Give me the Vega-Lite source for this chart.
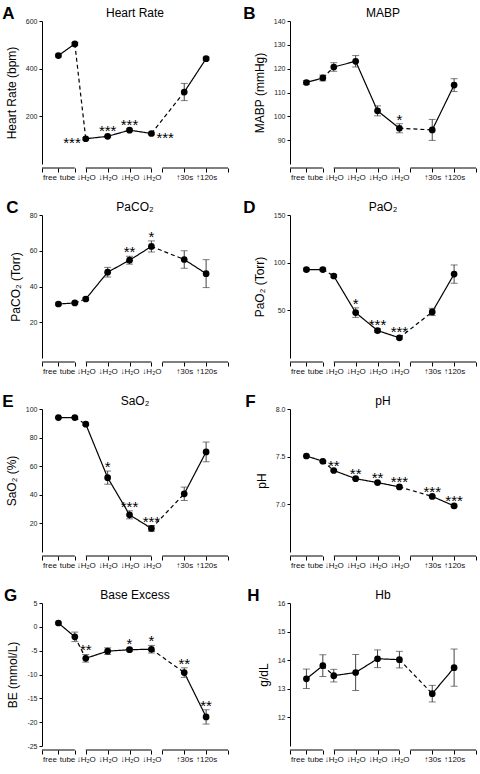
{
"$schema": "https://vega.github.io/schema/vega-lite/v6.json",
"padding": {"left": 2, "right": 2, "top": 5, "bottom": 2},
"columns": 2,
"spacing": {"row": 18, "column": 14},
"concat": [
{
"title": {"text": "A", "anchor": "start", "fontSize": 17, "fontWeight": "bold", "offset": -16, "dx": -3},
"vconcat": [{
"title": "Heart Rate", "width": 186, "height": 143,
"data": {"values": [
{"cond": "free", "phase": "pre", "mean": 455, "err": 6, "sig": ""},
{"cond": "tube", "phase": "pre", "mean": 504, "err": 6, "sig": ""},
{"cond": "d1", "phase": "dive", "mean": 106, "err": 5, "sig": "***"},
{"cond": "d2", "phase": "dive", "mean": 116, "err": 5, "sig": "***"},
{"cond": "d3", "phase": "dive", "mean": 142, "err": 5, "sig": "***"},
{"cond": "d4", "phase": "dive", "mean": 128, "err": 5, "sig": "***"},
{"cond": "r30", "phase": "rec", "mean": 302, "err": 36, "sig": ""},
{"cond": "r120", "phase": "rec", "mean": 442, "err": 6, "sig": ""}]},
"encoding": {
"x": {"field": "cond", "type": "nominal", "title": null, "scale": {"type": "point", "padding": 0, "domain": ["q0","q1","q2","free","q4","q5","tube","q7","d1","q9","q10","q11","d2","q13","q14","q15","d3","q17","q18","q19","d4","q21","q22","q23","q24","q25","r30","q27","q28","q29","r120","q31","q32","q33","q34"]}, "axis": {"values": ["q0","free","tube","d1","d2","d3","d4","q22","r30","r120","q34"], "labelExpr": "datum.value == 'free' ? 'free' : datum.value == 'tube' ? 'tube' : (datum.value == 'd1' || datum.value == 'd2' || datum.value == 'd3' || datum.value == 'd4') ? '↓H₂O' : datum.value == 'r30' ? '↑30s' : datum.value == 'r120' ? '↑120s' : ''", "labelAlign": {"condition": {"test": "datum.value == 'free' || datum.value == 'tube'", "value": "right"}, "value": "center"}, "labelOffset": {"condition": {"test": "datum.value == 'free'", "value": -2}, "value": 0}}},
"y": {"field": "mean", "type": "quantitative", "title": "Heart Rate (bpm)", "scale": {"domain": [0, 600]}, "axis": {"values": [200, 400, 600]}}
},
"layer": [
{"data": {"values": [{"cond": "q0", "cond2": "tube"}, {"cond": "d1", "cond2": "d4"}, {"cond": "q22", "cond2": "q34"}]}, "mark": {"type": "rule", "yOffset": 4, "y2Offset": 4, "color": "#000", "strokeWidth": 1}, "encoding": {"x2": {"field": "cond2"}, "y": {"value": "height"}, "y2": {"value": "height"}}},
{"transform": [{"window": [{"op": "lead", "field": "cond", "as": "ncond"}, {"op": "lead", "field": "mean", "as": "nmean"}, {"op": "lead", "field": "phase", "as": "nphase"}]}, {"filter": "datum.ncond != null"}],
 "mark": {"type": "rule", "color": "#000", "strokeWidth": 1.2}, "encoding": {"x2": {"field": "ncond"}, "y2": {"field": "nmean"}, "strokeDash": {"condition": {"test": "datum.phase !== datum.nphase", "value": [4, 3]}, "value": [1, 0]}}},
{"mark": {"type": "errorbar", "ticks": true, "size": 7, "thickness": 1, "color": "#444"}, "encoding": {"yError": {"field": "err"}}},
{"mark": {"type": "circle", "size": 45, "opacity": 1, "color": "#000"}},
{"transform": [{"filter": "datum.cond == 'd2' || datum.cond == 'd3'"}, {"calculate": "datum.mean + datum.err", "as": "hi"}], "mark": {"type": "text", "fontSize": 15, "dy": 1, "baseline": "alphabetic", "color": "#000"}, "encoding": {"y": {"field": "hi", "type": "quantitative", "title": "Heart Rate (bpm)"}, "text": {"field": "sig"}}},
{"transform": [{"filter": "datum.cond == 'd1'"}], "mark": {"type": "text", "fontSize": 15, "dy": 9, "dx": -5, "align": "right", "baseline": "alphabetic", "color": "#000"}, "encoding": {"text": {"field": "sig"}}},
{"transform": [{"filter": "datum.cond == 'd4'"}], "mark": {"type": "text", "fontSize": 15, "dy": 10, "dx": 5, "align": "left", "baseline": "alphabetic", "color": "#000"}, "encoding": {"text": {"field": "sig"}}}
]
}]
},
{
"title": {"text": "B", "anchor": "start", "fontSize": 17, "fontWeight": "bold", "offset": -16, "dx": -10},
"vconcat": [{
"title": "MABP", "width": 186, "height": 143,
"data": {"values": [
{"cond": "free", "phase": "pre", "mean": 114.2, "err": 0.8, "sig": ""},
{"cond": "tube", "phase": "pre", "mean": 116.1, "err": 1.2, "sig": ""},
{"cond": "d1", "phase": "dive", "mean": 120.7, "err": 1.8, "sig": ""},
{"cond": "d2", "phase": "dive", "mean": 123.1, "err": 2.4, "sig": ""},
{"cond": "d3", "phase": "dive", "mean": 102.3, "err": 2.1, "sig": ""},
{"cond": "d4", "phase": "dive", "mean": 95.0, "err": 1.9, "sig": "*"},
{"cond": "r30", "phase": "rec", "mean": 94.3, "err": 4.4, "sig": ""},
{"cond": "r120", "phase": "rec", "mean": 113.1, "err": 2.7, "sig": ""}]},
"encoding": {
"x": {"field": "cond", "type": "nominal", "title": null, "scale": {"type": "point", "padding": 0, "domain": ["q0","q1","q2","free","q4","q5","tube","q7","d1","q9","q10","q11","d2","q13","q14","q15","d3","q17","q18","q19","d4","q21","q22","q23","q24","q25","r30","q27","q28","q29","r120","q31","q32","q33","q34"]}, "axis": {"values": ["q0","free","tube","d1","d2","d3","d4","q22","r30","r120","q34"], "labelExpr": "datum.value == 'free' ? 'free' : datum.value == 'tube' ? 'tube' : (datum.value == 'd1' || datum.value == 'd2' || datum.value == 'd3' || datum.value == 'd4') ? '↓H₂O' : datum.value == 'r30' ? '↑30s' : datum.value == 'r120' ? '↑120s' : ''", "labelAlign": {"condition": {"test": "datum.value == 'free' || datum.value == 'tube'", "value": "right"}, "value": "center"}, "labelOffset": {"condition": {"test": "datum.value == 'free'", "value": -2}, "value": 0}}},
"y": {"field": "mean", "type": "quantitative", "title": "MABP (mmHg)", "scale": {"domain": [80, 140]}, "axis": {"values": [90, 100, 110, 120, 130, 140]}}
},
"layer": [
{"data": {"values": [{"cond": "q0", "cond2": "tube"}, {"cond": "d1", "cond2": "d4"}, {"cond": "q22", "cond2": "q34"}]}, "mark": {"type": "rule", "yOffset": 4, "y2Offset": 4, "color": "#000", "strokeWidth": 1}, "encoding": {"x2": {"field": "cond2"}, "y": {"value": "height"}, "y2": {"value": "height"}}},
{"transform": [{"window": [{"op": "lead", "field": "cond", "as": "ncond"}, {"op": "lead", "field": "mean", "as": "nmean"}, {"op": "lead", "field": "phase", "as": "nphase"}]}, {"filter": "datum.ncond != null"}],
 "mark": {"type": "rule", "color": "#000", "strokeWidth": 1.2}, "encoding": {"x2": {"field": "ncond"}, "y2": {"field": "nmean"}, "strokeDash": {"condition": {"test": "datum.phase !== datum.nphase", "value": [4, 3]}, "value": [1, 0]}}},
{"mark": {"type": "errorbar", "ticks": true, "size": 7, "thickness": 1, "color": "#444"}, "encoding": {"yError": {"field": "err"}}},
{"mark": {"type": "circle", "size": 45, "opacity": 1, "color": "#000"}},
{"transform": [{"filter": "datum.sig"}, {"calculate": "datum.mean + datum.err", "as": "hi"}], "mark": {"type": "text", "fontSize": 15, "dy": 1, "baseline": "alphabetic", "color": "#000"}, "encoding": {"y": {"field": "hi", "type": "quantitative", "title": "MABP (mmHg)"}, "text": {"field": "sig"}}}
]
}]
},
{
"title": {"text": "C", "anchor": "start", "fontSize": 17, "fontWeight": "bold", "offset": -16, "dx": -3},
"vconcat": [{
"title": "PaCO₂", "width": 186, "height": 143,
"data": {"values": [
{"cond": "free", "phase": "pre", "mean": 30.2, "err": 0.6, "sig": ""},
{"cond": "tube", "phase": "pre", "mean": 30.8, "err": 0.6, "sig": ""},
{"cond": "d1", "phase": "dive", "mean": 33.0, "err": 0.8, "sig": ""},
{"cond": "d2", "phase": "dive", "mean": 48.0, "err": 2.7, "sig": ""},
{"cond": "d3", "phase": "dive", "mean": 54.7, "err": 2.2, "sig": "**"},
{"cond": "d4", "phase": "dive", "mean": 62.4, "err": 3.1, "sig": "*"},
{"cond": "r30", "phase": "rec", "mean": 55.1, "err": 4.9, "sig": ""},
{"cond": "r120", "phase": "rec", "mean": 47.2, "err": 7.8, "sig": ""}]},
"encoding": {
"x": {"field": "cond", "type": "nominal", "title": null, "scale": {"type": "point", "padding": 0, "domain": ["q0","q1","q2","free","q4","q5","tube","q7","d1","q9","q10","q11","d2","q13","q14","q15","d3","q17","q18","q19","d4","q21","q22","q23","q24","q25","r30","q27","q28","q29","r120","q31","q32","q33","q34"]}, "axis": {"values": ["q0","free","tube","d1","d2","d3","d4","q22","r30","r120","q34"], "labelExpr": "datum.value == 'free' ? 'free' : datum.value == 'tube' ? 'tube' : (datum.value == 'd1' || datum.value == 'd2' || datum.value == 'd3' || datum.value == 'd4') ? '↓H₂O' : datum.value == 'r30' ? '↑30s' : datum.value == 'r120' ? '↑120s' : ''", "labelAlign": {"condition": {"test": "datum.value == 'free' || datum.value == 'tube'", "value": "right"}, "value": "center"}, "labelOffset": {"condition": {"test": "datum.value == 'free'", "value": -2}, "value": 0}}},
"y": {"field": "mean", "type": "quantitative", "title": "PaCO₂ (Torr)", "scale": {"domain": [0, 80]}, "axis": {"values": [20, 40, 60, 80]}}
},
"layer": [
{"data": {"values": [{"cond": "q0", "cond2": "tube"}, {"cond": "d1", "cond2": "d4"}, {"cond": "q22", "cond2": "q34"}]}, "mark": {"type": "rule", "yOffset": 4, "y2Offset": 4, "color": "#000", "strokeWidth": 1}, "encoding": {"x2": {"field": "cond2"}, "y": {"value": "height"}, "y2": {"value": "height"}}},
{"transform": [{"window": [{"op": "lead", "field": "cond", "as": "ncond"}, {"op": "lead", "field": "mean", "as": "nmean"}, {"op": "lead", "field": "phase", "as": "nphase"}]}, {"filter": "datum.ncond != null"}],
 "mark": {"type": "rule", "color": "#000", "strokeWidth": 1.2}, "encoding": {"x2": {"field": "ncond"}, "y2": {"field": "nmean"}, "strokeDash": {"condition": {"test": "datum.phase !== datum.nphase", "value": [4, 3]}, "value": [1, 0]}}},
{"mark": {"type": "errorbar", "ticks": true, "size": 7, "thickness": 1, "color": "#444"}, "encoding": {"yError": {"field": "err"}}},
{"mark": {"type": "circle", "size": 45, "opacity": 1, "color": "#000"}},
{"transform": [{"filter": "datum.sig"}, {"calculate": "datum.mean + datum.err", "as": "hi"}], "mark": {"type": "text", "fontSize": 15, "dy": 1, "baseline": "alphabetic", "color": "#000"}, "encoding": {"y": {"field": "hi", "type": "quantitative", "title": "PaCO₂ (Torr)"}, "text": {"field": "sig"}}}
]
}]
},
{
"title": {"text": "D", "anchor": "start", "fontSize": 17, "fontWeight": "bold", "offset": -16, "dx": -10},
"vconcat": [{
"title": "PaO₂", "width": 186, "height": 143,
"data": {"values": [
{"cond": "free", "phase": "pre", "mean": 92.8, "err": 1.5, "sig": ""},
{"cond": "tube", "phase": "pre", "mean": 92.8, "err": 1.5, "sig": ""},
{"cond": "d1", "phase": "dive", "mean": 86.0, "err": 1.5, "sig": ""},
{"cond": "d2", "phase": "dive", "mean": 47.6, "err": 5.0, "sig": "*"},
{"cond": "d3", "phase": "dive", "mean": 28.8, "err": 2.0, "sig": "***"},
{"cond": "d4", "phase": "dive", "mean": 21.2, "err": 1.5, "sig": "***"},
{"cond": "r30", "phase": "rec", "mean": 48.3, "err": 3.8, "sig": ""},
{"cond": "r120", "phase": "rec", "mean": 88.0, "err": 9.6, "sig": ""}]},
"encoding": {
"x": {"field": "cond", "type": "nominal", "title": null, "scale": {"type": "point", "padding": 0, "domain": ["q0","q1","q2","free","q4","q5","tube","q7","d1","q9","q10","q11","d2","q13","q14","q15","d3","q17","q18","q19","d4","q21","q22","q23","q24","q25","r30","q27","q28","q29","r120","q31","q32","q33","q34"]}, "axis": {"values": ["q0","free","tube","d1","d2","d3","d4","q22","r30","r120","q34"], "labelExpr": "datum.value == 'free' ? 'free' : datum.value == 'tube' ? 'tube' : (datum.value == 'd1' || datum.value == 'd2' || datum.value == 'd3' || datum.value == 'd4') ? '↓H₂O' : datum.value == 'r30' ? '↑30s' : datum.value == 'r120' ? '↑120s' : ''", "labelAlign": {"condition": {"test": "datum.value == 'free' || datum.value == 'tube'", "value": "right"}, "value": "center"}, "labelOffset": {"condition": {"test": "datum.value == 'free'", "value": -2}, "value": 0}}},
"y": {"field": "mean", "type": "quantitative", "title": "PaO₂ (Torr)", "scale": {"domain": [0, 150]}, "axis": {"values": [50, 100, 150]}}
},
"layer": [
{"data": {"values": [{"cond": "q0", "cond2": "tube"}, {"cond": "d1", "cond2": "d4"}, {"cond": "q22", "cond2": "q34"}]}, "mark": {"type": "rule", "yOffset": 4, "y2Offset": 4, "color": "#000", "strokeWidth": 1}, "encoding": {"x2": {"field": "cond2"}, "y": {"value": "height"}, "y2": {"value": "height"}}},
{"transform": [{"window": [{"op": "lead", "field": "cond", "as": "ncond"}, {"op": "lead", "field": "mean", "as": "nmean"}, {"op": "lead", "field": "phase", "as": "nphase"}]}, {"filter": "datum.ncond != null"}],
 "mark": {"type": "rule", "color": "#000", "strokeWidth": 1.2}, "encoding": {"x2": {"field": "ncond"}, "y2": {"field": "nmean"}, "strokeDash": {"condition": {"test": "datum.phase !== datum.nphase", "value": [4, 3]}, "value": [1, 0]}}},
{"mark": {"type": "errorbar", "ticks": true, "size": 7, "thickness": 1, "color": "#444"}, "encoding": {"yError": {"field": "err"}}},
{"mark": {"type": "circle", "size": 45, "opacity": 1, "color": "#000"}},
{"transform": [{"filter": "datum.sig"}, {"calculate": "datum.mean + datum.err", "as": "hi"}], "mark": {"type": "text", "fontSize": 15, "dy": 1, "baseline": "alphabetic", "color": "#000"}, "encoding": {"y": {"field": "hi", "type": "quantitative", "title": "PaO₂ (Torr)"}, "text": {"field": "sig"}}}
]
}]
},
{
"title": {"text": "E", "anchor": "start", "fontSize": 17, "fontWeight": "bold", "offset": -16, "dx": -3},
"vconcat": [{
"title": "SaO₂", "width": 186, "height": 143,
"data": {"values": [
{"cond": "free", "phase": "pre", "mean": 94.0, "err": 0.5, "sig": ""},
{"cond": "tube", "phase": "pre", "mean": 94.0, "err": 0.5, "sig": ""},
{"cond": "d1", "phase": "dive", "mean": 89.4, "err": 0.8, "sig": ""},
{"cond": "d2", "phase": "dive", "mean": 52.0, "err": 4.6, "sig": "*"},
{"cond": "d3", "phase": "dive", "mean": 26.0, "err": 2.8, "sig": "***"},
{"cond": "d4", "phase": "dive", "mean": 16.5, "err": 2.0, "sig": "***"},
{"cond": "r30", "phase": "rec", "mean": 40.7, "err": 4.7, "sig": ""},
{"cond": "r120", "phase": "rec", "mean": 70.0, "err": 6.9, "sig": ""}]},
"encoding": {
"x": {"field": "cond", "type": "nominal", "title": null, "scale": {"type": "point", "padding": 0, "domain": ["q0","q1","q2","free","q4","q5","tube","q7","d1","q9","q10","q11","d2","q13","q14","q15","d3","q17","q18","q19","d4","q21","q22","q23","q24","q25","r30","q27","q28","q29","r120","q31","q32","q33","q34"]}, "axis": {"values": ["q0","free","tube","d1","d2","d3","d4","q22","r30","r120","q34"], "labelExpr": "datum.value == 'free' ? 'free' : datum.value == 'tube' ? 'tube' : (datum.value == 'd1' || datum.value == 'd2' || datum.value == 'd3' || datum.value == 'd4') ? '↓H₂O' : datum.value == 'r30' ? '↑30s' : datum.value == 'r120' ? '↑120s' : ''", "labelAlign": {"condition": {"test": "datum.value == 'free' || datum.value == 'tube'", "value": "right"}, "value": "center"}, "labelOffset": {"condition": {"test": "datum.value == 'free'", "value": -2}, "value": 0}}},
"y": {"field": "mean", "type": "quantitative", "title": "SaO₂ (%)", "scale": {"domain": [0, 100]}, "axis": {"values": [20, 40, 60, 80, 100]}}
},
"layer": [
{"data": {"values": [{"cond": "q0", "cond2": "tube"}, {"cond": "d1", "cond2": "d4"}, {"cond": "q22", "cond2": "q34"}]}, "mark": {"type": "rule", "yOffset": 4, "y2Offset": 4, "color": "#000", "strokeWidth": 1}, "encoding": {"x2": {"field": "cond2"}, "y": {"value": "height"}, "y2": {"value": "height"}}},
{"transform": [{"window": [{"op": "lead", "field": "cond", "as": "ncond"}, {"op": "lead", "field": "mean", "as": "nmean"}, {"op": "lead", "field": "phase", "as": "nphase"}]}, {"filter": "datum.ncond != null"}],
 "mark": {"type": "rule", "color": "#000", "strokeWidth": 1.2}, "encoding": {"x2": {"field": "ncond"}, "y2": {"field": "nmean"}, "strokeDash": {"condition": {"test": "datum.phase !== datum.nphase", "value": [4, 3]}, "value": [1, 0]}}},
{"mark": {"type": "errorbar", "ticks": true, "size": 7, "thickness": 1, "color": "#444"}, "encoding": {"yError": {"field": "err"}}},
{"mark": {"type": "circle", "size": 45, "opacity": 1, "color": "#000"}},
{"transform": [{"filter": "datum.sig"}, {"calculate": "datum.mean + datum.err", "as": "hi"}], "mark": {"type": "text", "fontSize": 15, "dy": 1, "baseline": "alphabetic", "color": "#000"}, "encoding": {"y": {"field": "hi", "type": "quantitative", "title": "SaO₂ (%)"}, "text": {"field": "sig"}}}
]
}]
},
{
"title": {"text": "F", "anchor": "start", "fontSize": 17, "fontWeight": "bold", "offset": -16, "dx": -10},
"vconcat": [{
"title": "pH", "width": 186, "height": 143,
"data": {"values": [
{"cond": "free", "phase": "pre", "mean": 7.507, "err": 0.008, "sig": ""},
{"cond": "tube", "phase": "pre", "mean": 7.452, "err": 0.008, "sig": ""},
{"cond": "d1", "phase": "dive", "mean": 7.355, "err": 0.008, "sig": "**"},
{"cond": "d2", "phase": "dive", "mean": 7.269, "err": 0.008, "sig": "**"},
{"cond": "d3", "phase": "dive", "mean": 7.228, "err": 0.008, "sig": "**"},
{"cond": "d4", "phase": "dive", "mean": 7.183, "err": 0.008, "sig": "***"},
{"cond": "r30", "phase": "rec", "mean": 7.083, "err": 0.008, "sig": "***"},
{"cond": "r120", "phase": "rec", "mean": 6.983, "err": 0.008, "sig": "***"}]},
"encoding": {
"x": {"field": "cond", "type": "nominal", "title": null, "scale": {"type": "point", "padding": 0, "domain": ["q0","q1","q2","free","q4","q5","tube","q7","d1","q9","q10","q11","d2","q13","q14","q15","d3","q17","q18","q19","d4","q21","q22","q23","q24","q25","r30","q27","q28","q29","r120","q31","q32","q33","q34"]}, "axis": {"values": ["q0","free","tube","d1","d2","d3","d4","q22","r30","r120","q34"], "labelExpr": "datum.value == 'free' ? 'free' : datum.value == 'tube' ? 'tube' : (datum.value == 'd1' || datum.value == 'd2' || datum.value == 'd3' || datum.value == 'd4') ? '↓H₂O' : datum.value == 'r30' ? '↑30s' : datum.value == 'r120' ? '↑120s' : ''", "labelAlign": {"condition": {"test": "datum.value == 'free' || datum.value == 'tube'", "value": "right"}, "value": "center"}, "labelOffset": {"condition": {"test": "datum.value == 'free'", "value": -2}, "value": 0}}},
"y": {"field": "mean", "type": "quantitative", "title": "pH", "scale": {"domain": [6.5, 8.0]}, "axis": {"values": [7.0, 7.5, 8.0], "format": ".1f"}}
},
"layer": [
{"data": {"values": [{"cond": "q0", "cond2": "tube"}, {"cond": "d1", "cond2": "d4"}, {"cond": "q22", "cond2": "q34"}]}, "mark": {"type": "rule", "yOffset": 4, "y2Offset": 4, "color": "#000", "strokeWidth": 1}, "encoding": {"x2": {"field": "cond2"}, "y": {"value": "height"}, "y2": {"value": "height"}}},
{"transform": [{"window": [{"op": "lead", "field": "cond", "as": "ncond"}, {"op": "lead", "field": "mean", "as": "nmean"}, {"op": "lead", "field": "phase", "as": "nphase"}]}, {"filter": "datum.ncond != null"}],
 "mark": {"type": "rule", "color": "#000", "strokeWidth": 1.2}, "encoding": {"x2": {"field": "ncond"}, "y2": {"field": "nmean"}, "strokeDash": {"condition": {"test": "datum.phase !== datum.nphase", "value": [4, 3]}, "value": [1, 0]}}},
{"mark": {"type": "errorbar", "ticks": true, "size": 7, "thickness": 1, "color": "#444"}, "encoding": {"yError": {"field": "err"}}},
{"mark": {"type": "circle", "size": 45, "opacity": 1, "color": "#000"}},
{"transform": [{"filter": "datum.sig"}, {"calculate": "datum.mean + datum.err", "as": "hi"}], "mark": {"type": "text", "fontSize": 15, "dy": 1, "baseline": "alphabetic", "color": "#000"}, "encoding": {"y": {"field": "hi", "type": "quantitative", "title": "pH"}, "text": {"field": "sig"}}}
]
}]
},
{
"title": {"text": "G", "anchor": "start", "fontSize": 17, "fontWeight": "bold", "offset": -16, "dx": -3},
"vconcat": [{
"title": "Base Excess", "width": 186, "height": 143,
"data": {"values": [
{"cond": "free", "phase": "pre", "mean": 0.8, "err": 0.2, "sig": ""},
{"cond": "tube", "phase": "pre", "mean": -2.1, "err": 1.0, "sig": ""},
{"cond": "d1", "phase": "dive", "mean": -6.6, "err": 0.8, "sig": "**"},
{"cond": "d2", "phase": "dive", "mean": -5.1, "err": 0.7, "sig": ""},
{"cond": "d3", "phase": "dive", "mean": -4.8, "err": 0.3, "sig": "*"},
{"cond": "d4", "phase": "dive", "mean": -4.7, "err": 0.8, "sig": "*"},
{"cond": "r30", "phase": "rec", "mean": -9.6, "err": 1.0, "sig": "**"},
{"cond": "r120", "phase": "rec", "mean": -18.9, "err": 1.5, "sig": "**"}]},
"encoding": {
"x": {"field": "cond", "type": "nominal", "title": null, "scale": {"type": "point", "padding": 0, "domain": ["q0","q1","q2","free","q4","q5","tube","q7","d1","q9","q10","q11","d2","q13","q14","q15","d3","q17","q18","q19","d4","q21","q22","q23","q24","q25","r30","q27","q28","q29","r120","q31","q32","q33","q34"]}, "axis": {"values": ["q0","free","tube","d1","d2","d3","d4","q22","r30","r120","q34"], "labelExpr": "datum.value == 'free' ? 'free' : datum.value == 'tube' ? 'tube' : (datum.value == 'd1' || datum.value == 'd2' || datum.value == 'd3' || datum.value == 'd4') ? '↓H₂O' : datum.value == 'r30' ? '↑30s' : datum.value == 'r120' ? '↑120s' : ''", "labelAlign": {"condition": {"test": "datum.value == 'free' || datum.value == 'tube'", "value": "right"}, "value": "center"}, "labelOffset": {"condition": {"test": "datum.value == 'free'", "value": -2}, "value": 0}}},
"y": {"field": "mean", "type": "quantitative", "title": "BE (mmol/L)", "scale": {"domain": [-25, 5]}, "axis": {"values": [5, 0, -5, -10, -15, -20, -25], "labelExpr": "'' + datum.value"}}
},
"layer": [
{"data": {"values": [{"cond": "q0", "cond2": "tube"}, {"cond": "d1", "cond2": "d4"}, {"cond": "q22", "cond2": "q34"}]}, "mark": {"type": "rule", "yOffset": 4, "y2Offset": 4, "color": "#000", "strokeWidth": 1}, "encoding": {"x2": {"field": "cond2"}, "y": {"value": "height"}, "y2": {"value": "height"}}},
{"transform": [{"window": [{"op": "lead", "field": "cond", "as": "ncond"}, {"op": "lead", "field": "mean", "as": "nmean"}, {"op": "lead", "field": "phase", "as": "nphase"}]}, {"filter": "datum.ncond != null"}],
 "mark": {"type": "rule", "color": "#000", "strokeWidth": 1.2}, "encoding": {"x2": {"field": "ncond"}, "y2": {"field": "nmean"}, "strokeDash": {"condition": {"test": "datum.phase !== datum.nphase", "value": [4, 3]}, "value": [1, 0]}}},
{"mark": {"type": "errorbar", "ticks": true, "size": 7, "thickness": 1, "color": "#444"}, "encoding": {"yError": {"field": "err"}}},
{"mark": {"type": "circle", "size": 45, "opacity": 1, "color": "#000"}},
{"transform": [{"filter": "datum.sig"}, {"calculate": "datum.mean + datum.err", "as": "hi"}], "mark": {"type": "text", "fontSize": 15, "dy": 1, "baseline": "alphabetic", "color": "#000"}, "encoding": {"y": {"field": "hi", "type": "quantitative", "title": "BE (mmol/L)"}, "text": {"field": "sig"}}}
]
}]
},
{
"title": {"text": "H", "anchor": "start", "fontSize": 17, "fontWeight": "bold", "offset": -16, "dx": -10},
"vconcat": [{
"title": "Hb", "width": 186, "height": 143,
"data": {"values": [
{"cond": "free", "phase": "pre", "mean": 13.35, "err": 0.34, "sig": ""},
{"cond": "tube", "phase": "pre", "mean": 13.81, "err": 0.38, "sig": ""},
{"cond": "d1", "phase": "dive", "mean": 13.46, "err": 0.22, "sig": ""},
{"cond": "d2", "phase": "dive", "mean": 13.57, "err": 0.63, "sig": ""},
{"cond": "d3", "phase": "dive", "mean": 14.05, "err": 0.31, "sig": ""},
{"cond": "d4", "phase": "dive", "mean": 14.02, "err": 0.29, "sig": ""},
{"cond": "r30", "phase": "rec", "mean": 12.83, "err": 0.29, "sig": ""},
{"cond": "r120", "phase": "rec", "mean": 13.74, "err": 0.65, "sig": ""}]},
"encoding": {
"x": {"field": "cond", "type": "nominal", "title": null, "scale": {"type": "point", "padding": 0, "domain": ["q0","q1","q2","free","q4","q5","tube","q7","d1","q9","q10","q11","d2","q13","q14","q15","d3","q17","q18","q19","d4","q21","q22","q23","q24","q25","r30","q27","q28","q29","r120","q31","q32","q33","q34"]}, "axis": {"values": ["q0","free","tube","d1","d2","d3","d4","q22","r30","r120","q34"], "labelExpr": "datum.value == 'free' ? 'free' : datum.value == 'tube' ? 'tube' : (datum.value == 'd1' || datum.value == 'd2' || datum.value == 'd3' || datum.value == 'd4') ? '↓H₂O' : datum.value == 'r30' ? '↑30s' : datum.value == 'r120' ? '↑120s' : ''", "labelAlign": {"condition": {"test": "datum.value == 'free' || datum.value == 'tube'", "value": "right"}, "value": "center"}, "labelOffset": {"condition": {"test": "datum.value == 'free'", "value": -2}, "value": 0}}},
"y": {"field": "mean", "type": "quantitative", "title": "g/dL", "scale": {"domain": [11, 16]}, "axis": {"values": [12, 13, 14, 15, 16]}}
},
"layer": [
{"data": {"values": [{"cond": "q0", "cond2": "tube"}, {"cond": "d1", "cond2": "d4"}, {"cond": "q22", "cond2": "q34"}]}, "mark": {"type": "rule", "yOffset": 4, "y2Offset": 4, "color": "#000", "strokeWidth": 1}, "encoding": {"x2": {"field": "cond2"}, "y": {"value": "height"}, "y2": {"value": "height"}}},
{"transform": [{"window": [{"op": "lead", "field": "cond", "as": "ncond"}, {"op": "lead", "field": "mean", "as": "nmean"}, {"op": "lead", "field": "phase", "as": "nphase"}]}, {"filter": "datum.ncond != null"}],
 "mark": {"type": "rule", "color": "#000", "strokeWidth": 1.2}, "encoding": {"x2": {"field": "ncond"}, "y2": {"field": "nmean"}, "strokeDash": {"condition": {"test": "datum.phase !== datum.nphase", "value": [4, 3]}, "value": [1, 0]}}},
{"mark": {"type": "errorbar", "ticks": true, "size": 7, "thickness": 1, "color": "#444"}, "encoding": {"yError": {"field": "err"}}},
{"mark": {"type": "circle", "size": 45, "opacity": 1, "color": "#000"}}
]
}]
}
],
"config": {
"font": "Liberation Sans",
"view": {"stroke": null},
"title": {"fontSize": 12, "fontWeight": "normal", "color": "#000", "offset": -3},
"axis": {"grid": false, "domainColor": "#000", "tickColor": "#000", "labelColor": "#222", "titleColor": "#000"},
"axisX": {"domain": false, "tickSize": 4, "offset": 4, "labelAngle": 0, "labelFontSize": 8, "labelPadding": 1, "labelColor": "#111"},
"axisY": {"tickSize": 3, "labelFontSize": 7, "labelPadding": 2, "titleFontSize": 12, "titleFontWeight": "normal", "titlePadding": 7}
}
}
